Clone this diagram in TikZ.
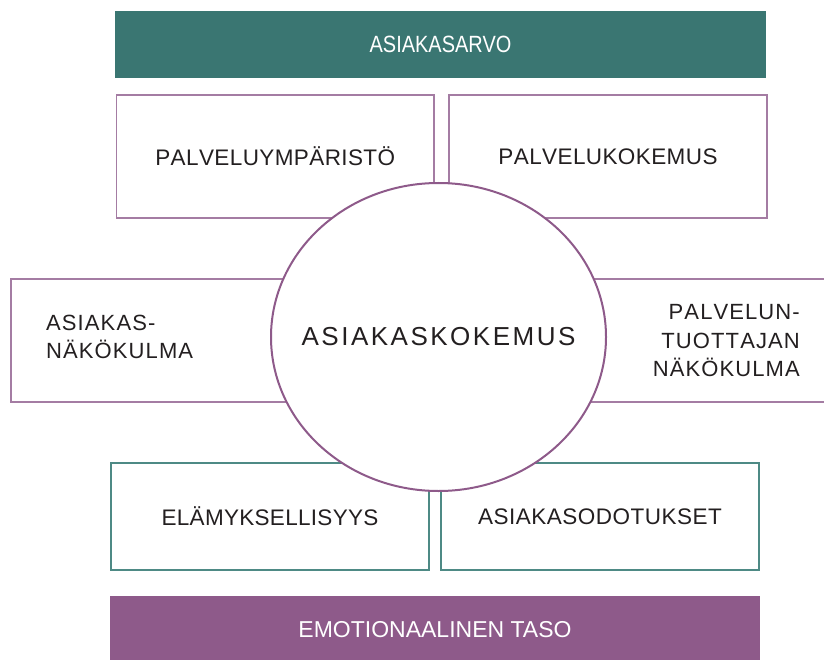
\documentclass[tikz,border=0pt]{standalone}
\usepackage{fontspec}
\newfontfamily\plainfont{Liberation Sans}
\usetikzlibrary{shapes.geometric}

\definecolor{tealband}{HTML}{3A7672}
\definecolor{plumband}{HTML}{8E5A8A}
\definecolor{plumline}{HTML}{A47CA3}
\definecolor{tealline}{HTML}{4E8A85}
\definecolor{inktext}{HTML}{231F20}

% letter spacing: a kern between the characters of a word
\newdimen\trackamount
\def\tracked#1#2{\trackamount=#1\relax\trackloop#2\relax}
\def\trackloop#1#2{#1\ifx#2\relax\else\kern\trackamount\expandafter\trackloop\expandafter#2\fi}

\tikzset{
  band/.style={fill=#1, draw=none, inner sep=0pt, outer sep=0pt,
    text=white, font=\plainfont\fontsize{23}{26}\selectfont},
  panel/.style={draw=#1, line width=1.3pt, fill=white, inner sep=0pt,
    outer sep=0pt, text=inktext, font=\plainfont\fontsize{22.5}{26}\selectfont},
  edge/.style={draw=#1, line width=1.3pt},
  sidetext/.style={text=inktext, inner sep=0pt,
    font=\plainfont\fontsize{22}{28.5}\selectfont},
  core/.style={ellipse, draw=plumband, line width=2pt, fill=white,
    inner sep=0pt, outer sep=0pt},
  coretext/.style={text=inktext, inner sep=0pt,
    font=\plainfont\fontsize{26}{30}\selectfont}
}

\begin{document}
\begin{tikzpicture}[x=1pt, y=-1pt]
\useasboundingbox (0,0) rectangle (824,660);

% headline band, its title set narrow
\node[band=tealband, minimum width=651pt, minimum height=67pt] (value) at (440.5,44.5) {};
\node[text=white, inner sep=0pt, font=\plainfont\fontsize{23.5}{26}\selectfont, xscale=0.85, transform shape] (valuetitle) at (value.center) {ASIAKASARVO};

% upper panels
\node[panel=plumline, minimum width=317.5pt, minimum height=123pt] (environment) at (275.25,156.5) {\tracked{0.4pt}{PALVELUYMPÄRISTÖ}};
\node[panel=plumline, minimum width=318pt, minimum height=123pt] (service) at (608,156.5) {\tracked{0.4pt}{PALVELUKOKEMUS}};

% side panels (their texts are set after the ellipse); the right one runs
% off the page, so only three of its edges are drawn
\node[panel=plumline, minimum width=310pt, minimum height=123pt] (leftpanel) at (166,340.5) {};
\node[fill=white, inner sep=0pt, outer sep=0pt, minimum width=264pt, minimum height=123pt] (rightpanel) at (692,340.5) {};
\draw[edge=plumline] (rightpanel.north east) -- (rightpanel.north west) -- (rightpanel.south west) -- (rightpanel.south east);

% lower panels
\node[panel=tealline, minimum width=318pt, minimum height=107pt] (experience) at (270,516.5) {\tracked{0.3pt}{ELÄMYKSELLISYYS}};
\node[panel=tealline, minimum width=318pt, minimum height=107pt] (expectations) at (600,516.5) {\tracked{0.5pt}{ASIAKASODOTUKSET}};

% central ellipse and its title
\node[core, minimum width=335pt, minimum height=308pt] (centre) at (438.5,337) {};
\node[coretext] (centretitle) at (centre.center) {\tracked{2.5pt}{ASIAKASKOKEMUS}};

% side texts
\node[sidetext, anchor=west, align=left] (customer) at (46,337) {\tracked{1.1pt}{ASIAKAS-}\\\tracked{1.1pt}{NÄKÖKULMA}};
\node[sidetext, anchor=east, align=right] (provider) at (800,341) {\tracked{1.1pt}{PALVELUN-}\\\tracked{1.1pt}{TUOTTAJAN}\\\tracked{1.1pt}{NÄKÖKULMA}};

% footer band, ending at the lower page edge
\node[band=plumband, minimum width=650pt, minimum height=64pt] (emotion) at (435,628) {};
\node[text=white, inner sep=0pt, font=\plainfont\fontsize{23}{26}\selectfont] (emotiontitle) at (435,630) {EMOTIONAALINEN TASO};
\end{tikzpicture}
\end{document}
